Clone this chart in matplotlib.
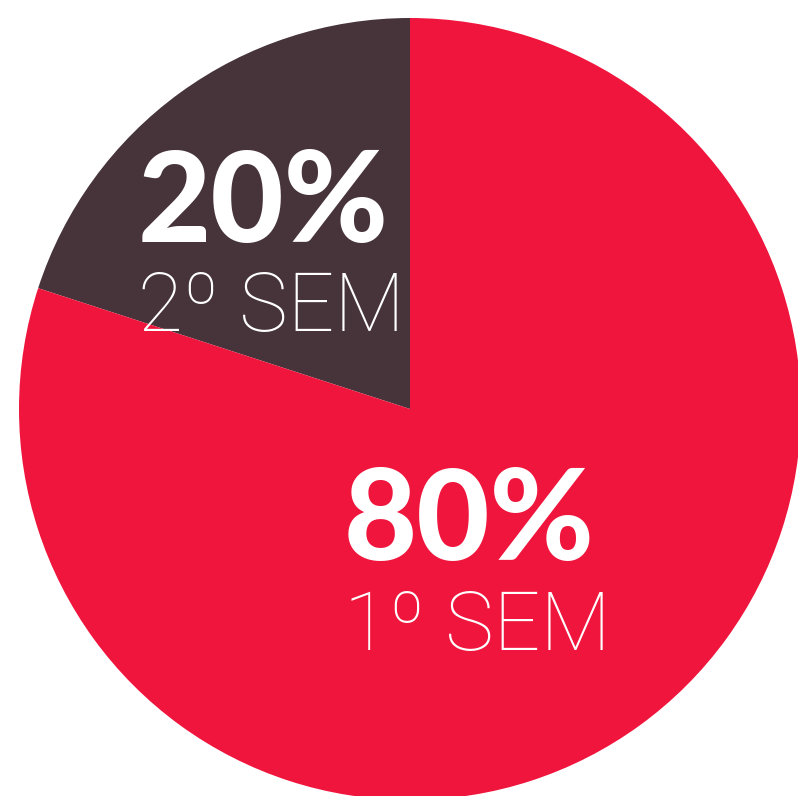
import matplotlib
matplotlib.use('Agg')
import matplotlib.pyplot as plt

# data
labels = ['2º SEM', '1º SEM']
shares = [20, 80]
colors = ['#47343A', '#F0153D']

W, H = 798, 796

fig = plt.figure(figsize=(W / 100, H / 100), dpi=100)
ax = fig.add_axes([0, 0, 1, 1])

# pie sits at pixel (410, 409), radius ~391, slightly cropped on the right/bottom
ax.pie(shares, colors=colors, startangle=90, counterclock=True,
       center=(410, H - 409), radius=391,
       wedgeprops={'linewidth': 0, 'antialiased': True})

# pie() resets the limits, so set them afterwards
ax.set_xlim(0, W)
ax.set_ylim(0, H)
ax.set_aspect('equal')
ax.axis('off')

# label positions in pixels: (x_left, baseline_pct, baseline_label)
pos = {'2º SEM': (138, 242, 331), '1º SEM': (344, 560, 650)}
for lab, val in zip(labels, shares):
    x, y1, y2 = pos[lab]
    ax.text(x, H - y1, f'{val}%', color='white', fontsize=91,
            family='Lato', weight='black', ha='left', va='baseline')
    ax.text(x, H - y2, lab, color='white', fontsize=59,
            family='Roboto', weight='light', ha='left', va='baseline')

fig.savefig('out.png', dpi=100, facecolor='white')
